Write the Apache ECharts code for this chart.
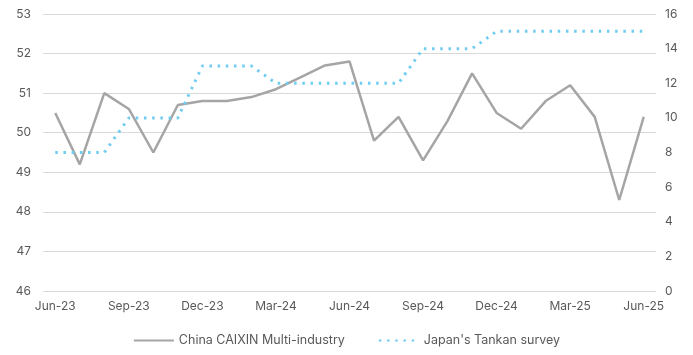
<!DOCTYPE html>
<html><head><meta charset="utf-8">
<script src="https://cdn.jsdelivr.net/npm/echarts@6/dist/echarts.min.js"></script>
<style>html,body{margin:0;padding:0;background:#fff}#c{width:693px;height:355px}</style>
</head><body><div id="c"></div>
<script>
const categories = ["Jun-23","Jul-23","Aug-23","Sep-23","Oct-23","Nov-23","Dec-23","Jan-24","Feb-24","Mar-24","Apr-24","May-24","Jun-24","Jul-24","Aug-24","Sep-24","Oct-24","Nov-24","Dec-24","Jan-25","Feb-25","Mar-25","Apr-25","May-25","Jun-25"];
const chinaCaixin = [50.5,49.2,51.0,50.6,49.5,50.7,50.8,50.8,50.9,51.1,51.4,51.7,51.8,49.8,50.4,49.3,50.3,51.5,50.5,50.1,50.8,51.2,50.4,48.3,50.4];
const japanTankan = [8,8,8,10,10,10,13,13,13,12,12,12,12,12,12,14,14,14,15,15,15,15,15,15,15];
const leftTicks = [46,53,1];
const rightTicks = [0,16,2];

const font = 'Inter, "Noto Sans", sans-serif';
const labelColor = '#595959';
const chart = echarts.init(document.getElementById('c'));
chart.setOption({
  animation:false,
  grid:{left:43,right:37,top:14,bottom:64,containLabel:false},
  legend:{
    bottom:3,left:'center',itemWidth:40,itemHeight:12,itemGap:33,
    itemStyle:{opacity:0},
    textStyle:{color:labelColor,fontFamily:font,fontSize:12.5},
    data:['China CAIXIN Multi-industry',"Japan's Tankan survey"]
  },
  xAxis:{
    type:'category',data:categories,boundaryGap:true,
    axisLine:{show:false},axisTick:{show:false},
    axisLabel:{interval:2,color:labelColor,fontFamily:font,fontSize:12,margin:9},
    splitLine:{show:false}
  },
  yAxis:[
    {type:'value',min:leftTicks[0],max:leftTicks[1],interval:leftTicks[2],
     axisLine:{show:false},axisTick:{show:false},
     axisLabel:{color:labelColor,fontFamily:font,fontSize:12,margin:12},
     splitLine:{lineStyle:{color:'#d9d9d9',width:1}}},
    {type:'value',min:rightTicks[0],max:rightTicks[1],interval:rightTicks[2],position:'right',
     axisLine:{show:false},axisTick:{show:false},
     axisLabel:{color:labelColor,fontFamily:font,fontSize:12,margin:9},
     splitLine:{show:false}}
  ],
  series:[
    {name:'China CAIXIN Multi-industry',type:'line',yAxisIndex:0,data:chinaCaixin,
     symbol:'none',lineStyle:{color:'#a5a5a5',width:2.5},itemStyle:{color:'#a5a5a5'}},
    {name:"Japan's Tankan survey",type:'line',yAxisIndex:1,data:japanTankan,
     symbol:'none',lineStyle:{color:'#6fcdf2',width:3,type:[2.5,5.7],cap:'butt'},itemStyle:{color:'#6fcdf2'}}
  ]
});
</script></body></html>
